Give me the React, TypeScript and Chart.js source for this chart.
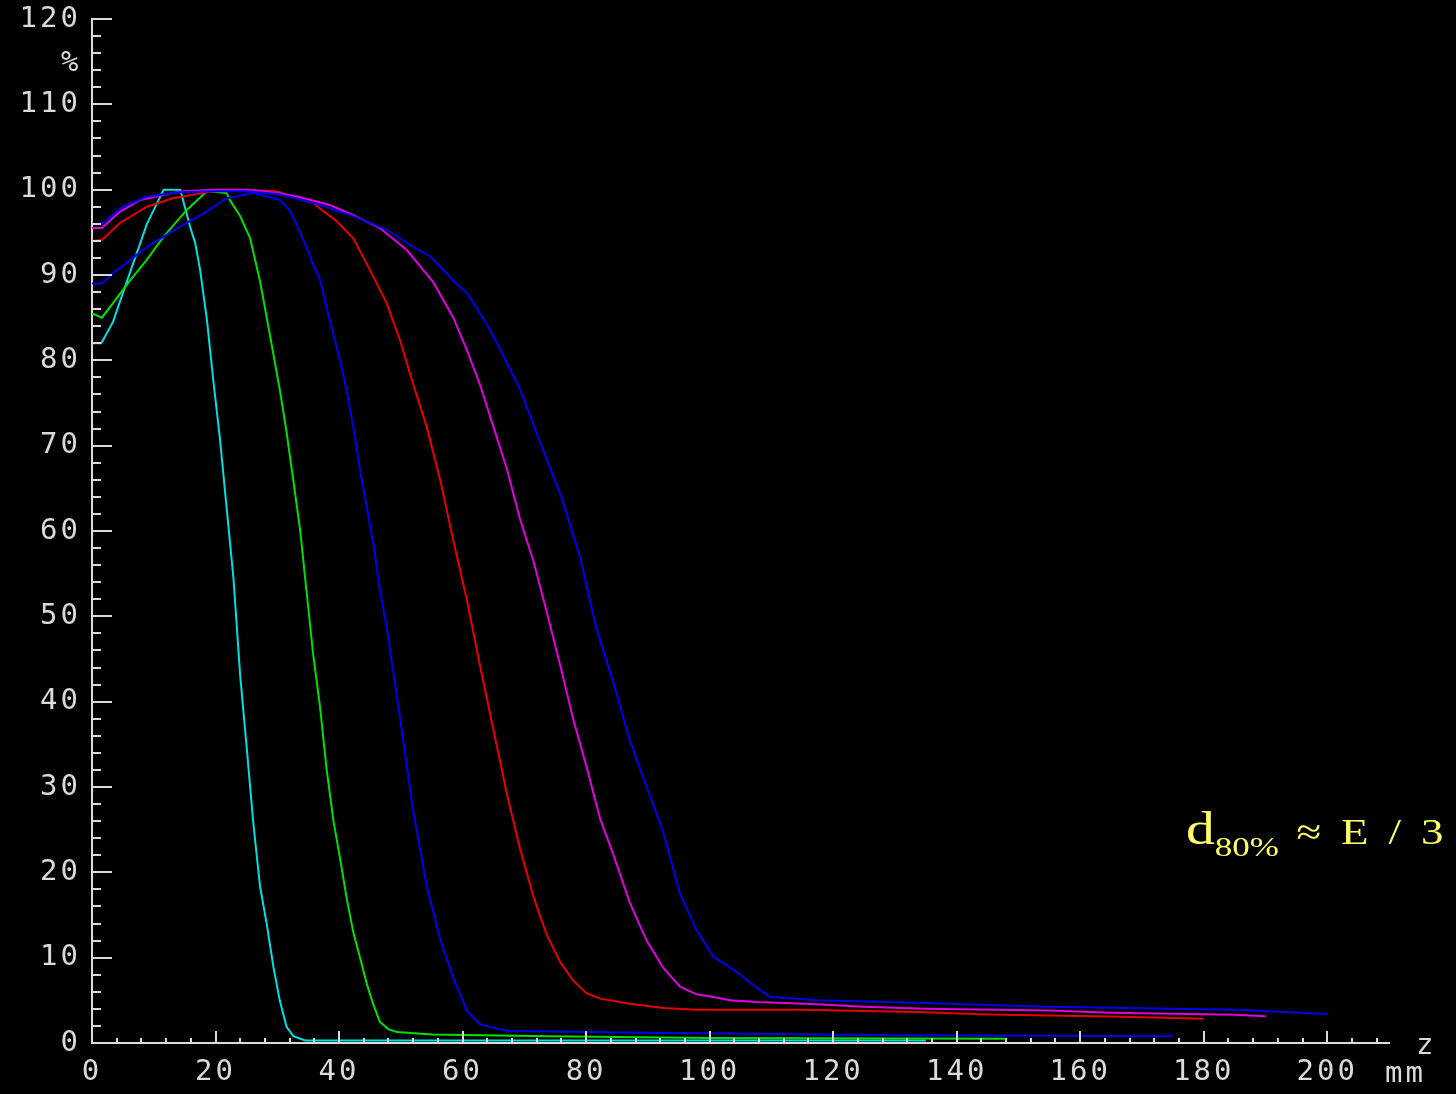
import React, { useEffect, useRef } from 'react';
import { Chart, registerables } from 'chart.js';

Chart.register(...registerables);

// ---- data (depth z in mm, relative dose in %) ----
const cyanZ = [0, 1.5, 3.4, 6.2, 8.9, 11.6, 14.3, 15.9, 16.7, 17.5, 18.6, 19.6, 20.7, 21.8, 22.9, 24, 25.1, 26.1, 27.2, 28.3, 29.4, 30.4, 31.5, 32.6, 34.5, 135];
const cyanV = [82, 82, 84.5, 90.4, 96, 100, 100, 95.6, 93.8, 90.6, 84.8, 77.9, 70.9, 62.7, 54.5, 43, 34.2, 25.9, 18.4, 13.9, 8.8, 5, 1.9, 0.8, 0.3, 0.3];

const greenZ = [0, 1.6, 3.4, 6.2, 8.9, 11.6, 15.3, 18.6, 21.8, 22.3, 24, 25.6, 27.2, 28.8, 30.4, 31.5, 32.6, 33.7, 34.8, 35.8, 36.9, 38, 39.1, 40.2, 41.2, 42.3, 43.4, 44.5, 45.6, 46.6, 48, 49.4, 55, 74, 100, 148];
const greenV = [85.5, 85, 86.7, 89.4, 91.8, 94.5, 97.6, 99.8, 99.6, 98.8, 96.9, 94.3, 89.3, 83, 76.6, 71.6, 65.9, 60.1, 52.5, 45.6, 39.5, 32, 26, 21.5, 17.1, 13, 10, 6.9, 4.4, 2.5, 1.6, 1.3, 1.0, 0.8, 0.6, 0.5];

const blue1Z = [0, 1.6, 3.4, 8.9, 14.3, 18, 21.8, 26.1, 30.4, 32.1, 33.7, 34.8, 35.8, 36.9, 38, 39.1, 40.2, 41.2, 42.3, 43.4, 44.5, 45.6, 46.6, 47.7, 49.9, 52, 54.2, 56.4, 58.5, 60.7, 62.8, 65.5, 67.5, 90, 130, 175];
const blue1V = [89, 89, 90.2, 93.3, 95.7, 97.2, 99, 99.6, 98.8, 97.5, 95, 93.1, 91.2, 89.5, 86.1, 83, 79.8, 76.6, 72.2, 67.2, 62.7, 58.3, 53.2, 48.8, 38, 27.2, 18.4, 12.1, 7.6, 3.8, 2.2, 1.7, 1.4, 1.2, 0.9, 0.8];

const redZ = [0, 1.6, 4.5, 8.9, 13.1, 19.6, 25, 30, 35.8, 39.6, 42.3, 45, 47.7, 49.9, 52, 54.2, 56.4, 58.5, 60.7, 62.8, 65, 67.2, 69.3, 71.5, 73.6, 75.8, 77.9, 80.1, 82.3, 87.1, 92.5, 97.9, 115, 135, 145, 165, 180];
const redV = [94, 94.1, 96.1, 98, 99, 99.8, 100, 99.8, 98.4, 96.3, 94.3, 90.6, 86.7, 82.3, 77.2, 72.2, 65.9, 58.9, 51.9, 44.3, 36.7, 29.1, 22.8, 17.1, 12.7, 9.5, 7.3, 5.8, 5.2, 4.6, 4.1, 3.9, 3.9, 3.6, 3.35, 3.1, 2.85];

const magentaZ = [0, 1.6, 4.5, 7.8, 14.3, 20, 25, 30, 33.2, 38.5, 42.3, 46.6, 51, 55.3, 58.5, 60.7, 62.8, 65, 67.2, 69.3, 71.5, 73.6, 75.8, 77.9, 80.1, 82.3, 84.4, 87.1, 89.8, 92.5, 95.2, 97.9, 100.6, 103.3, 107.6, 117.4, 124.9, 135, 155, 165, 185, 190];
const magentaV = [95.5, 95.5, 97.4, 98.8, 99.8, 100, 100, 99.6, 99.2, 98.2, 97, 95.5, 92.9, 89.1, 85, 81.2, 77.2, 72.2, 67.2, 61.4, 56.4, 50.6, 44.3, 38, 32.3, 26.2, 22.1, 16.4, 12, 8.8, 6.6, 5.7, 5.4, 5.0, 4.8, 4.55, 4.25, 4.0, 3.8, 3.55, 3.3, 3.13];

const blue2Z = [0, 1.6, 5, 8.9, 14.3, 20, 25, 30, 33, 36.9, 42.3, 47.7, 52, 54.7, 56.4, 58.5, 60.7, 62.8, 64.5, 66.3, 69.3, 72.6, 76, 79, 81.7, 84.5, 87.1, 89.8, 92.5, 95.2, 97.9, 100.6, 103, 105, 107, 109.8, 112.5, 117.4, 135, 145, 155, 185, 200];
const blue2V = [96, 96, 98, 99.2, 99.7, 99.8, 99.8, 99.5, 99, 98.2, 96.9, 95.3, 93.3, 92.2, 91, 89.3, 87.9, 85.5, 83.5, 81, 76.6, 70.3, 64, 57, 48.5, 42, 35.4, 30, 24.7, 17.5, 13.2, 10.1, 9, 8, 6.8, 5.4, 5.27, 5.0, 4.7, 4.45, 4.25, 3.9, 3.4];

// ---- axis settings ----
const X_MIN = 0;
const X_MAX = 210;
const X_LABEL_STEP = 20;
const X_MINOR_STEP = 4;
const X_LAST_TICK = 208;
const Y_MIN = 0;
const Y_MAX = 120;
const Y_LABEL_STEP = 10;
const Y_MINOR_STEP = 2;

const AXIS_COLOR = '#dadada';
const MONO = '"DejaVu Sans Mono", monospace';

const seriesList = [
  { z: blue2Z, v: blue2V, color: '#0000f0' },
  { z: magentaZ, v: magentaV, color: '#e000e0' },
  { z: redZ, v: redV, color: '#e80000' },
  { z: blue1Z, v: blue1V, color: '#0000f0' },
  { z: greenZ, v: greenV, color: '#00e000' },
  { z: cyanZ, v: cyanV, color: '#00e0e0' },
];

const spacingPlugin = {
  id: 'letterSpacing',
  beforeDraw(chart: any) {
    (chart.ctx as any).letterSpacing = '3px';
  },
};

const tickPlugin = {
  id: 'innerTicks',
  afterDatasetsDraw(chart: any) {
    const { ctx, scales } = chart;
    const xs = scales.x;
    const ys = scales.y;
    const left = xs.left;
    const bottom = ys.bottom;
    ctx.save();
    ctx.strokeStyle = AXIS_COLOR;
    ctx.lineWidth = 2;
    ctx.beginPath();
    const nY = Math.round((Y_MAX - Y_MIN) / Y_MINOR_STEP);
    for (let i = 1; i <= nY; i++) {
      const v = Y_MIN + i * Y_MINOR_STEP;
      const py = Math.round(ys.getPixelForValue(v));
      const len = v % Y_LABEL_STEP === 0 ? 20 : 9;
      ctx.moveTo(left, py);
      ctx.lineTo(left + len, py);
    }
    const nX = Math.round((X_LAST_TICK - X_MIN) / X_MINOR_STEP);
    for (let i = 1; i <= nX; i++) {
      const v = X_MIN + i * X_MINOR_STEP;
      const px = Math.round(xs.getPixelForValue(v));
      const len = v % X_LABEL_STEP === 0 ? 12 : 5;
      ctx.moveTo(px, bottom);
      ctx.lineTo(px, bottom - len);
    }
    ctx.stroke();
    ctx.restore();
  },
};

export default function App() {
  const canvasRef = useRef<HTMLCanvasElement | null>(null);

  useEffect(() => {
    document.body.style.margin = '0';
    document.body.style.background = '#000';
    const canvas = canvasRef.current;
    if (!canvas) return;
    const chart = new Chart(canvas, {
      type: 'line',
      data: {
        datasets: seriesList.map((s) => ({
          data: s.z.map((x, i) => ({ x, y: s.v[i] })),
          borderColor: s.color,
          backgroundColor: s.color,
          borderWidth: 2,
          pointRadius: 0,
          tension: 0,
          fill: false,
        })),
      },
      options: {
        animation: false,
        responsive: false,
        devicePixelRatio: 1,
        layout: { padding: { top: 19, right: 67, left: 0, bottom: 0 } },
        plugins: { legend: { display: false }, tooltip: { enabled: false } },
        scales: {
          x: {
            type: 'linear',
            min: X_MIN,
            max: X_MAX,
            grid: { display: false, drawTicks: false },
            border: { display: true, color: AXIS_COLOR, width: 2 },
            ticks: {
              stepSize: X_LABEL_STEP,
              includeBounds: false,
              autoSkip: false,
              maxRotation: 0,
              color: AXIS_COLOR,
              padding: 12,
              font: { family: MONO, size: 29 },
            },
            afterFit: (s: any) => {
              s.height = 51;
              s.paddingLeft = 0;
              s.paddingRight = 0;
            },
          },
          y: {
            type: 'linear',
            min: Y_MIN,
            max: Y_MAX,
            grid: { display: false, drawTicks: false },
            border: { display: true, color: AXIS_COLOR, width: 2 },
            ticks: {
              stepSize: Y_LABEL_STEP,
              color: AXIS_COLOR,
              padding: 11,
              font: { family: MONO, size: 29 },
            },
            afterFit: (s: any) => {
              s.width = 92;
              s.paddingTop = 0;
              s.paddingBottom = 0;
            },
          },
        },
      },
      plugins: [spacingPlugin, tickPlugin],
    } as any);
    return () => chart.destroy();
  }, []);

  const monoText: React.CSSProperties = {
    position: 'absolute',
    fontFamily: MONO,
    fontSize: 29,
    lineHeight: 1,
    letterSpacing: '3px',
    color: AXIS_COLOR,
    whiteSpace: 'nowrap',
  };

  return (
    <div style={{ position: 'relative', width: 1456, height: 1094, background: '#000', overflow: 'hidden' }}>
      <canvas ref={canvasRef} width={1456} height={1094} style={{ display: 'block' }} />
      <div style={{ ...monoText, left: 61, top: 47 }}>%</div>
      <div style={{ ...monoText, left: 1416, top: 1030 }}>z</div>
      <div style={{ ...monoText, left: 1385, top: 1058 }}>mm</div>
      <div
        style={{
          position: 'absolute',
          left: 1186,
          top: 806,
          color: '#ffff66',
          fontFamily: '"Liberation Serif", serif',
          fontSize: 46,
          lineHeight: 1,
          whiteSpace: 'nowrap',
          transform: 'scaleX(1.25)',
          transformOrigin: 'left top',
        }}
      >
        <span>d</span>
        <span style={{ fontSize: 28, verticalAlign: '-12px' }}>80%</span>
        <span style={{ fontSize: 36, letterSpacing: '2px', wordSpacing: '3px' }}> ≈ E / 3</span>
      </div>
    </div>
  );
}
